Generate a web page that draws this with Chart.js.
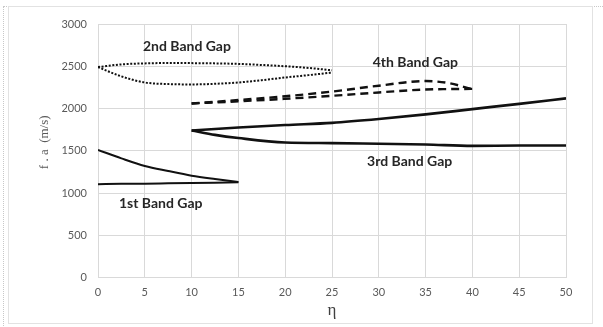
<!DOCTYPE html>
<html>
<head>
<meta charset="utf-8">
<script src="https://cdn.jsdelivr.net/npm/chart.js@4.4.1/dist/chart.umd.min.js"></script>
<style>
  html, body { margin: 0; padding: 0; background: #fff; }
  #pagina { position: relative; width: 603px; height: 327px; overflow: hidden; }
  /* cornice tratteggiata del documento */
  #bordoPagina { position: absolute; left: 3px; top: 6px; width: 640px; height: 400px; border: 1px dotted #c8c8c8; }
  /* cornice del grafico */
  #bordoGrafico { position: absolute; left: 8px; top: 6px; width: 583px; height: 316px; border: 1px solid #e2e2e2; }
  canvas { position: absolute; left: 0; top: 0; }
</style>
</head>
<body>
<div id="pagina">
  <div id="bordoPagina"></div>
  <div id="bordoGrafico"></div>
  <canvas id="graficoBande" width="603" height="327"></canvas>
</div>
<script>
// ---[ DATI ]---
// 1a banda proibita
const eta1 = [0, 2.5, 5, 7.5, 10, 12.5, 15];
const banda1Sup = [1510, 1410, 1320, 1260, 1205, 1165, 1130];
const banda1Inf = [1105, 1108, 1110, 1114, 1118, 1122, 1126];

// 2a banda proibita (puntinata)
const eta2 = [0, 2.5, 5, 7.5, 10, 12.5, 15, 17.5, 20, 22.5, 25];
const banda2Sup = [2490, 2522, 2534, 2538, 2537, 2534, 2528, 2515, 2500, 2480, 2452];
const banda2Inf = [2490, 2380, 2308, 2289, 2285, 2292, 2308, 2335, 2367, 2395, 2425];

// 3a banda proibita
const eta3 = [10, 12.5, 15, 20, 25, 30, 35, 40, 45, 50];
const banda3Sup = [1740, 1758, 1775, 1805, 1830, 1875, 1930, 1993, 2055, 2120];
const banda3Inf = [1740, 1688, 1650, 1597, 1590, 1582, 1574, 1558, 1562, 1562];

// 4a banda proibita (tratteggiata)
const eta4 = [10, 15, 20, 25, 30, 35, 37.5, 40];
const banda4Sup = [2060, 2100, 2145, 2200, 2270, 2325, 2300, 2228];
const banda4Inf = [2060, 2085, 2115, 2150, 2190, 2225, 2230, 2232];

// Etichette delle bande: testo, eta, valore
const etichette = ['2nd Band Gap', '4th Band Gap', '3rd Band Gap', '1st Band Gap'];
const etichetteEta = [9.5, 33.9, 33.3, 6.7];
const etichetteVal = [2735, 2550, 1372, 880];

const xTicks = [0, 5, 10, 15, 20, 25, 30, 35, 40, 45, 50];
const yTicks = [0, 500, 1000, 1500, 2000, 2500, 3000];
const titoloY = 'f . a  (m/s)';
const titoloX = 'η';

// Costruisce i punti {x, y}
function punti(xs, ys) {
    return xs.map((x, i) => ({ x: x, y: ys[i] }));
}

// Stile comune delle linee
function serie(xs, ys, larghezza, tratteggio) {
    return {
        data: punti(xs, ys),
        borderColor: '#111',
        borderWidth: larghezza,
        borderDash: tratteggio,
        pointRadius: 0,
        cubicInterpolationMode: 'monotone',
        fill: false
    };
}

const datasets = [
    serie(eta1, banda1Sup, 2, []),
    serie(eta1, banda1Inf, 2, []),
    serie(eta2, banda2Sup, 2, [2, 1.6]),
    serie(eta2, banda2Inf, 2, [2, 1.6]),
    serie(eta3, banda3Sup, 2.6, []),
    serie(eta3, banda3Inf, 2.6, []),
    serie(eta4, banda4Sup, 2.4, [8, 5]),
    serie(eta4, banda4Inf, 2.4, [8, 5])
];

// Plugin per scrivere i nomi delle bande e il titolo verticale
const pluginEtichette = {
    id: 'etichetteBande',
    afterDatasetsDraw(chart) {
        const ctx = chart.ctx;
        const sx = chart.scales.x;
        const sy = chart.scales.y;
        ctx.save();
        ctx.font = 'bold 14px Lato, "Liberation Sans", sans-serif';
        ctx.fillStyle = '#262626';
        ctx.textAlign = 'center';
        ctx.textBaseline = 'middle';
        etichette.forEach((t, i) => {
            ctx.fillText(t, sx.getPixelForValue(etichetteEta[i]), sy.getPixelForValue(etichetteVal[i]));
        });

        // titolo asse y, un po' sopra il centro come nell'originale Excel
        ctx.translate(45, sy.getPixelForValue(1600));
        ctx.rotate(-Math.PI / 2);
        ctx.font = '13px "Liberation Serif", serif';
        ctx.fillStyle = '#595959';
        ctx.fillText(titoloY, 0, 0);
        ctx.restore();
    }
};

// Numeri senza separatore delle migliaia
const senzaVirgola = v => String(v);

const ctx = document.getElementById('graficoBande').getContext('2d');
new Chart(ctx, {
    type: 'line',
    data: { datasets: datasets },
    options: {
        responsive: false,
        animation: false,
        layout: { padding: { left: 0, right: 37, top: 24, bottom: 4 } },
        plugins: {
            legend: { display: false },
            tooltip: { enabled: false }
        },
        scales: {
            x: {
                type: 'linear',
                min: 0,
                max: 50,
                afterBuildTicks: s => { s.ticks = xTicks.map(v => ({ value: v })); },
                afterFit: s => { s.height = 45.5; },
                grid: { color: '#d9d9d9', drawTicks: false },
                border: { color: '#d9d9d9' },
                ticks: { color: '#595959', padding: 8, callback: senzaVirgola, font: { family: 'Lato, "Liberation Sans", sans-serif', size: 11 } },
                title: {
                    display: true,
                    text: titoloX,
                    color: '#404040',
                    padding: { top: 0, bottom: 2 },
                    font: { family: '"Liberation Serif", serif', size: 17 }
                }
            },
            y: {
                type: 'linear',
                min: 0,
                max: 3000,
                afterBuildTicks: s => { s.ticks = yTicks.map(v => ({ value: v })); },
                afterFit: s => { s.width = 98; },
                grid: { color: '#d9d9d9', drawTicks: false },
                border: { color: '#d9d9d9' },
                ticks: { color: '#595959', padding: 11, callback: senzaVirgola, font: { family: 'Lato, "Liberation Sans", sans-serif', size: 11 } }
            }
        }
    },
    plugins: [pluginEtichette]
});
</script>
</body>
</html>
